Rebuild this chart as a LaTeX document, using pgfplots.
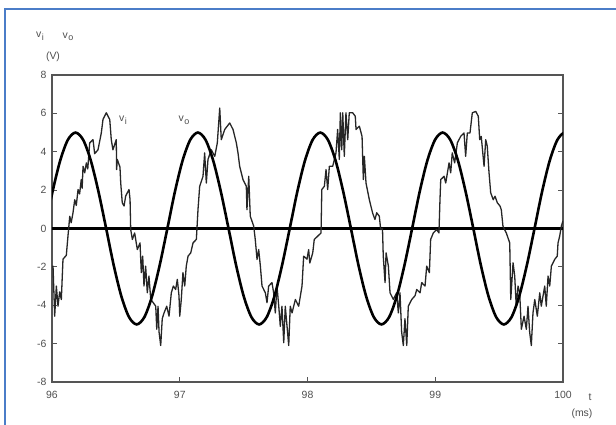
\documentclass[border=0pt]{standalone}
\usepackage{fontspec}
\setmainfont{Liberation Sans}
\usepackage{pgfplots}
\usepackage{pgfplotstable}
\pgfplotsset{compat=1.18}

\definecolor{framegray}{RGB}{85,85,85}
\definecolor{labelgray}{RGB}{80,80,80}
\definecolor{pageblue}{RGB}{75,125,200}

% output voltage v_o (ms, V)
\pgfplotstableread{
t v
95.945 0
96.004 1.913
96.064 3.536
96.124 4.619
96.184 5
96.244 4.619
96.304 3.536
96.364 1.913
96.424 0
96.483 -1.913
96.543 -3.536
96.603 -4.619
96.663 -5
96.723 -4.619
96.783 -3.536
96.843 -1.913
96.903 0
96.962 1.913
97.022 3.536
97.082 4.619
97.142 5
97.202 4.619
97.262 3.536
97.322 1.913
97.382 0
97.441 -1.913
97.501 -3.536
97.561 -4.619
97.621 -5
97.681 -4.619
97.741 -3.536
97.801 -1.913
97.861 0
97.920 1.913
97.980 3.536
98.040 4.619
98.100 5
98.160 4.619
98.220 3.536
98.280 1.913
98.340 0
98.399 -1.913
98.459 -3.536
98.519 -4.619
98.579 -5
98.639 -4.619
98.699 -3.536
98.759 -1.913
98.819 0
98.878 1.913
98.938 3.536
98.998 4.619
99.058 5
99.118 4.619
99.178 3.536
99.238 1.913
99.298 0
99.357 -1.913
99.417 -3.536
99.477 -4.619
99.537 -5
99.597 -4.619
99.657 -3.536
99.717 -1.913
99.777 0
99.836 1.913
99.896 3.536
99.956 4.619
100.016 5
100.076 4.619
}\vo

% input voltage v_i (ms, V)
\pgfplotstableread{
t v
96.000 -2.0
96.008 -1.96
96.021 -4.57
96.034 -3.0
96.047 -4.05
96.060 -3.3
96.073 -3.7
96.086 -1.6
96.112 -1.4
96.125 -0.4
96.139 0.64
96.150 0.3
96.164 0.8
96.178 1.5
96.190 1.2
96.204 2.03
96.216 1.8
96.229 2.55
96.236 2.1
96.243 3.24
96.256 2.9
96.269 3.42
96.280 3.1
96.295 4.46
96.321 4.63
96.334 3.9
96.360 4.1
96.386 4.98
96.399 5.68
96.425 6.03
96.452 5.68
96.464 4.63
96.477 4.1
96.503 4.63
96.506 3.07
96.511 3.6
96.532 3.2
96.538 2.37
96.550 1.34
96.564 1.17
96.577 1.7
96.603 2.03
96.611 1.5
96.616 -0.05
96.629 -0.57
96.647 -0.23
96.668 -1.1
96.689 -0.75
96.699 -2.3
96.710 -1.44
96.720 -3.0
96.733 -1.96
96.746 -3.35
96.759 -2.48
96.773 -3.7
96.793 -3.87
96.812 -4.05
96.820 -5.25
96.830 -4.05
96.838 -5.4
96.851 -6.1
96.863 -4.7
96.877 -4.4
96.898 -4.05
96.916 -4.57
96.934 -3.35
96.950 -3.0
96.968 -3.18
96.981 -2.65
96.994 -3.5
97.000 -4.57
97.012 -3.7
97.025 -2.3
97.039 -3.0
97.051 -1.96
97.065 -1.44
97.086 -1.27
97.104 -0.75
97.130 -0.57
97.143 1.0
97.156 2.2
97.182 2.72
97.195 3.94
97.208 2.37
97.221 3.6
97.247 4.1
97.274 3.76
97.294 4.46
97.313 6.28
97.325 4.63
97.352 5.16
97.391 5.5
97.417 5.16
97.443 4.46
97.456 3.94
97.469 3.24
97.495 2.55
97.521 2.2
97.526 0.98
97.540 2.72
97.552 0.64
97.579 0.12
97.591 -0.57
97.605 -1.61
97.618 -1.1
97.631 -1.96
97.644 -3.0
97.670 -3.35
97.683 -3.87
97.696 -3.0
97.722 -2.82
97.735 -3.35
97.748 -4.4
97.761 -3.0
97.775 -4.05
97.787 -5.1
97.800 -4.05
97.814 -5.95
97.826 -4.05
97.853 -6.1
97.865 -4.05
97.879 -4.4
97.905 -3.7
97.931 -4.05
97.957 -3.0
97.970 -1.44
97.996 -1.6
98.009 -1.1
98.018 -1.8
98.041 -1.27
98.053 -0.57
98.080 -0.4
98.106 -0.23
98.112 2.03
98.132 2.2
98.145 3.07
98.158 2.03
98.171 3.24
98.197 3.24
98.223 3.94
98.236 5.16
98.249 3.6
98.257 6.03
98.268 4.1
98.276 6.03
98.288 3.76
98.301 6.03
98.315 4.63
98.327 6.03
98.354 6.03
98.374 5.85
98.380 5.16
98.406 5.33
98.427 4.8
98.437 2.55
98.445 3.76
98.458 2.37
98.484 1.5
98.510 0.8
98.528 0.47
98.542 0.82
98.562 0.64
98.573 -0.05
98.587 0.0
98.593 -1.44
98.607 -2.82
98.615 -1.27
98.633 -1.96
98.646 -3.35
98.672 -3.7
98.698 -3.35
98.711 -4.4
98.724 -3.35
98.737 -5.4
98.750 -6.1
98.763 -4.7
98.777 -6.1
98.789 -4.05
98.816 -3.7
98.842 -3.5
98.855 -3.18
98.881 -3.35
98.894 -2.82
98.920 -3.0
98.933 -1.96
98.954 -2.3
98.964 -0.57
98.985 -0.23
99.011 -0.05
99.029 -0.23
99.037 1.5
99.043 2.55
99.069 2.72
99.082 2.37
99.108 3.42
99.121 2.9
99.133 3.94
99.152 3.42
99.173 4.46
99.199 4.8
99.225 4.98
99.238 3.76
99.251 4.98
99.272 4.98
99.290 6.03
99.317 6.1
99.337 5.85
99.348 4.63
99.360 4.8
99.382 3.24
99.395 4.63
99.407 4.3
99.421 2.9
99.434 1.86
99.454 1.5
99.468 1.68
99.486 1.34
99.507 1.17
99.517 0.98
99.530 0.12
99.556 -0.23
99.583 -0.75
99.591 -3.7
99.609 -1.79
99.622 -2.48
99.634 -4.05
99.648 -3.0
99.661 -3.35
99.674 -5.25
99.695 -4.57
99.713 -5.25
99.726 -4.05
99.739 -5.4
99.752 -6.1
99.765 -4.4
99.779 -3.7
99.799 -4.57
99.818 -3.35
99.830 -4.05
99.857 -3.0
99.869 -4.05
99.883 -2.48
99.896 -3.0
99.909 -1.96
99.935 -1.61
99.955 -1.44
99.961 -0.75
99.974 -0.4
99.987 0.12
100.000 0.4
}\vi

\newcommand{\lblfont}{\fontsize{10.5}{12}\selectfont}
% voltage symbol with a lowered, only slightly reduced index
\newcommand{\volt}[1]{v\kern0.5bp\raisebox{-0.45ex}{\fontsize{9}{10}\selectfont #1}}

\begin{document}
\begin{tikzpicture}
\useasboundingbox (0,0) rectangle (616bp,425bp);
\fill[white] (0,0) rectangle (616bp,425bp);
\draw[pageblue, line width=1.6bp] (5bp,0) -- (5bp,416bp) -- (616bp,416bp);

\begin{axis}[
  at={(52bp,43bp)}, anchor=south west,
  scale only axis, width=511bp, height=307bp,
  xmin=96, xmax=100, ymin=-8, ymax=8,
  xtick={96,97,98,99,100}, xticklabels={96,97,98,99,100},
  ytick={-8,-6,-4,-2,0,2,4,6,8}, yticklabels={-8,-6,-4,-2,0,2,4,6,8},
  xtick pos=left, ytick pos=both,
  tick align=inside, major tick length=5bp,
  axis line style={draw=framegray, line width=1.6bp},
  tick style={draw=framegray, line width=1.1bp},
  ticklabel style={font=\lblfont, text=labelgray},
  yticklabel style={xshift=-2bp},
  xticklabel style={yshift=-6bp},
  clip=true,
]
\addplot[black, line width=2.1bp] coordinates {(96,0) (100,0)};
\addplot[black!85, line width=1.3bp, line join=round] table[x=t, y=v] {\vi};
\addplot[black, line width=2.6bp, smooth] table[x=t, y=v] {\vo};
\node[text=labelgray, font=\lblfont] at (axis cs:96.556,5.63) {\volt{i}};
\node[text=labelgray, font=\lblfont] at (axis cs:97.033,5.63) {\volt{o}};
\end{axis}

\begin{scope}[every node/.style={text=labelgray, font=\lblfont}]
\node at (40bp,389bp) {\volt{i}};
\node at (68bp,388bp) {\volt{o}};
\node at (53bp,368bp) {(V)};
\node at (590bp,28bp) {t};
\node at (582bp,11bp) {(ms)};
\end{scope}
\end{tikzpicture}
\end{document}
